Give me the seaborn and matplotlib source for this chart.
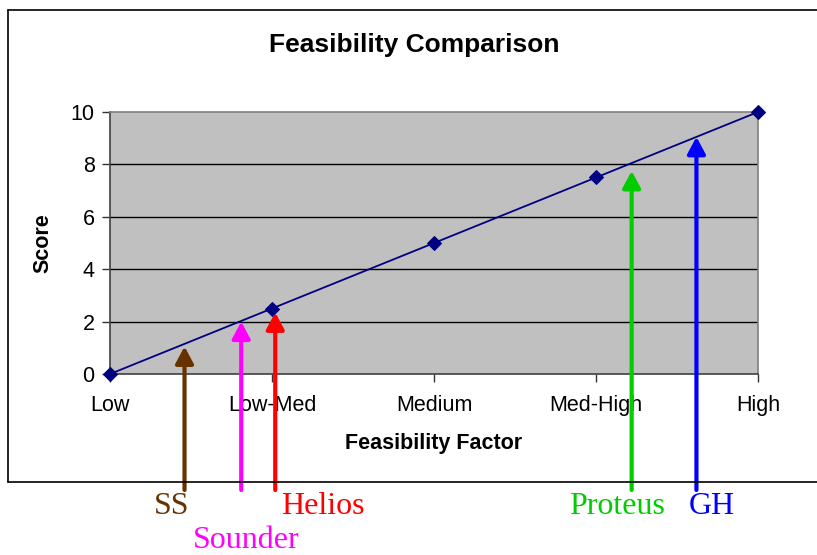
import matplotlib
matplotlib.use('Agg')
import matplotlib.pyplot as plt
import seaborn as sns
from matplotlib.lines import Line2D

# chart data
categories = ['Low', 'Low-Med', 'Medium', 'Med-High', 'High']
scores = [0, 2.5, 5, 7.5, 10]

# arrows: name, position along the factor axis, score at the tip, colour
systems = ['SS', 'Sounder', 'Helios', 'Proteus', 'GH']
system_pos = [0.46, 0.81, 1.02, 3.22, 3.62]
system_tip = [1.05, 2.0, 2.35, 7.75, 9.05]
system_colors = ['#663300', '#FF00FF', '#FF0000', '#00CC00', '#0000FF']
label_xy = [(172, 507), (246, 540), (323, 507), (617, 507), (712, 507)]

sns.set_style('white', {'text.color': 'black', 'axes.labelcolor': 'black',
                        'xtick.color': 'black', 'ytick.color': 'black'})
plt.rcParams['font.family'] = ['Liberation Sans', 'DejaVu Sans']

W, H = 817, 555
fig = plt.figure(figsize=(W / 100, H / 100), dpi=100)
ax = fig.add_axes([110 / W, 1 - 374 / H, 648 / W, 262 / H])
ax.set_facecolor('#C0C0C0')

sns.lineplot(x=list(range(len(categories))), y=scores, ax=ax, color='#000080',
             marker='D', markersize=7, markeredgecolor='#000080', linewidth=1.3,
             clip_on=False, zorder=5)

ax.set_xlim(0, len(categories) - 1)
ax.set_ylim(0, 10)
ax.set_yticks(range(0, 11, 2))
ax.set_xticks(range(len(categories)))
ax.set_xticklabels(categories)
ax.tick_params(axis='both', labelsize=15.5, direction='out', length=6, width=1,
               colors='#333333', labelcolor='black', left=True, bottom=True)
ax.tick_params(axis='x', pad=9)
ax.tick_params(axis='y', pad=5)
for y in [2, 4, 6, 8]:
    ax.axhline(y, color='black', linewidth=1, zorder=1)
ax.spines['left'].set_color('#404040')
ax.spines['bottom'].set_color('#404040')
ax.spines['top'].set_color('#808080')
ax.spines['right'].set_color('#808080')
for s in ax.spines.values():
    s.set_linewidth(1.2)

ax.set_xlabel('Feasibility Factor', fontsize=15.5, fontweight='bold', va='center')
ax.set_ylabel('Score', fontsize=15.5, fontweight='bold', va='center')
ax.xaxis.set_label_coords((434 - 110) / 648, (374 - 443) / 262)
ax.yaxis.set_label_coords((43 - 110) / 648, (374 - 243) / 262)

fig.text(414 / W, 1 - 45 / H, 'Feasibility Comparison', ha='center', va='center',
         fontsize=19, fontweight='bold')

# outer chart frame (right side runs off the picture)
for xs, ys in [([8, 8], [10, 482]), ([8, W], [10, 10]), ([8, W], [482, 482])]:
    fig.add_artist(Line2D([x / W for x in xs], [1 - y / H for y in ys],
                          color='black', linewidth=1.2))

for name, xp, tip, col, (lx, ly) in zip(systems, system_pos, system_tip,
                                        system_colors, label_xy):
    ax.annotate('', xy=(xp, tip), xytext=(xp, H - 490),
                xycoords='data', textcoords=('data', 'figure pixels'),
                annotation_clip=False, zorder=10,
                arrowprops=dict(arrowstyle='-|>,head_length=0.56,head_width=0.3',
                                mutation_scale=18, color=col, linewidth=3,
                                shrinkA=0, shrinkB=0))
    fig.text(lx / W, 1 - ly / H, name, ha='center', va='center', color=col,
             fontsize=23, family=['Liberation Serif', 'DejaVu Serif'])

fig.savefig('out.png', dpi=100)
